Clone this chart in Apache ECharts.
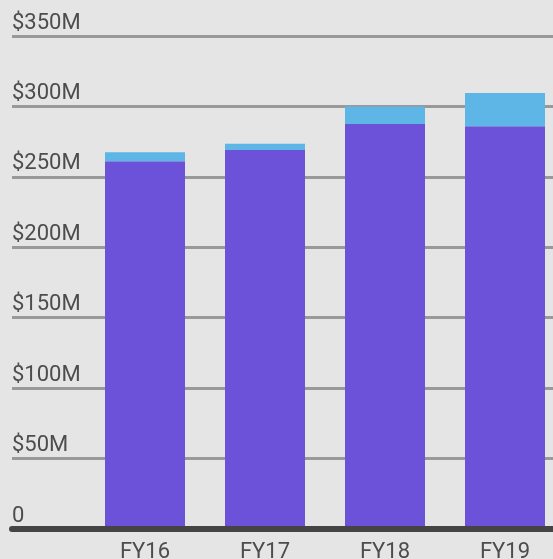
<!DOCTYPE html>
<html>
<head>
<meta charset="utf-8">
<script src="https://cdn.jsdelivr.net/npm/echarts@6/dist/echarts.min.js"></script>
<style>
  html, body { margin: 0; padding: 0; background: #e5e5e5; }
  #chart { width: 553px; height: 559px; }
</style>
</head>
<body>
<div id="chart"></div>
<script>
// values in $M
const years = ['FY16', 'FY17', 'FY18', 'FY19'];
const baseValues = [261, 269, 287.5, 286];
const topValues = [6.5, 4.5, 12.5, 23.5];
const yTickLabels = ['0', '$50M', '$100M', '$150M', '$200M', '$250M', '$300M', '$350M'];

const chart = echarts.init(document.getElementById('chart'), null, { renderer: 'canvas' });

const textColor = '#4d4d4d';
const font = { fontFamily: 'Roboto', fontSize: 22, color: textColor };

chart.setOption({
    backgroundColor: '#e5e5e5',
    animation: false,
    grid: [
        // bars (runs past the right edge on purpose)
        { left: 85, width: 480, top: 36, bottom: 30, outerBoundsMode: 'none' },
        // full width grid lines + labels
        { left: 12, right: 0, top: 36, bottom: 30, outerBoundsMode: 'none' },
    ],
    xAxis: [
        {
            type: 'category',
            gridIndex: 0,
            data: years,
            axisLine: { show: false },
            axisTick: { show: false },
            axisLabel: { ...font, margin: 12 },
        },
        {
            type: 'value',
            gridIndex: 1,
            show: true,
            z: 10,
            axisLine: { show: true, onZero: false, lineStyle: { color: '#444', width: 6 } },
            axisTick: { show: false },
            axisLabel: { show: false },
            splitLine: { show: false },
        },
    ],
    yAxis: [
        {
            type: 'value',
            gridIndex: 0,
            min: 0, max: 350, interval: 50,
            show: false,
        },
        {
            type: 'value',
            gridIndex: 1,
            min: 0, max: 350, interval: 50,
            axisLine: { show: false },
            axisTick: { show: false },
            splitLine: { show: true, lineStyle: { color: '#999', width: 3 } },
            axisLabel: {
                ...font,
                inside: true,
                margin: 0,
                align: 'left',
                verticalAlign: 'bottom',
                padding: [0, 0, 2, 0],
                formatter: (v) => yTickLabels[Math.round(v / 50)],
            },
        },
    ],
    series: [
        {
            name: 'base',
            type: 'bar',
            stack: 'total',
            xAxisIndex: 0,
            yAxisIndex: 0,
            barWidth: 80,
            itemStyle: { color: '#6c52d9' },
            data: baseValues,
        },
        {
            name: 'top',
            type: 'bar',
            stack: 'total',
            xAxisIndex: 0,
            yAxisIndex: 0,
            barWidth: 80,
            itemStyle: { color: '#5eb6e6' },
            data: topValues,
        },
    ],
});

window.addEventListener('resize', () => chart.resize());
</script>
</body>
</html>
